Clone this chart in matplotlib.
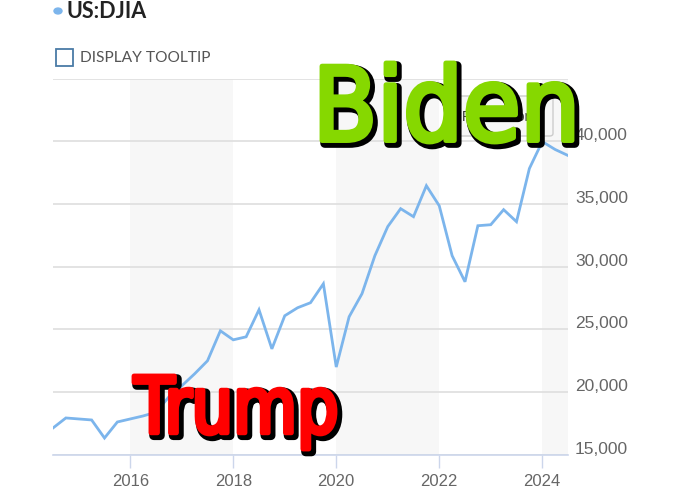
import matplotlib
matplotlib.use("Agg")
import matplotlib.pyplot as plt
import matplotlib.patheffects as pe
import matplotlib.transforms as mtransforms
from matplotlib.textpath import TextPath
from matplotlib.patches import PathPatch, FancyBboxPatch, Rectangle, Circle
from matplotlib.font_manager import FontProperties
from matplotlib.ticker import FixedLocator, FuncFormatter

# ---- data (quarterly DJIA) ----
dates = [2014.50, 2014.75, 2015.00, 2015.25, 2015.50, 2015.75, 2016.00, 2016.25,
         2016.50, 2016.75, 2017.00, 2017.25, 2017.50, 2017.75, 2018.00, 2018.25,
         2018.50, 2018.75, 2019.00, 2019.25, 2019.50, 2019.75, 2020.00, 2020.25,
         2020.50, 2020.75, 2021.00, 2021.25, 2021.50, 2021.75, 2022.00, 2022.25,
         2022.50, 2022.75, 2023.00, 2023.25, 2023.50, 2023.75, 2024.00, 2024.25,
         2024.50]
djia = [17130, 17930, 17850, 17770, 16330, 17610, 17850, 18090,
        18390, 19610, 20490, 21450, 22490, 24880, 24160, 24400,
        26560, 23440, 26080, 26720, 27120, 28630, 21990, 26000,
        27840, 30870, 33190, 34620, 33980, 36450, 34850, 30870,
        28790, 33260, 33340, 34540, 33580, 37820, 39970, 39340,
        38860]
x_ticks = [2016, 2018, 2020, 2022, 2024]
y_ticks = [15000, 20000, 25000, 30000, 35000, 40000]
band_starts = [2016, 2020, 2024]
band_ends = [2018, 2022, 2026]
series_name = "US:DJIA"

W, H = 680, 502
fig = plt.figure(figsize=(W / 100, H / 100), dpi=100)
fig.patch.set_facecolor("white")

ax = fig.add_axes([53 / W, (H - 455.7) / H, (568 - 53) / W, (455.7 - 79.5) / H])
ax.set_xlim(2014.5, 2024.5)
ax.set_ylim(15000, 45000)

for s, e in zip(band_starts, band_ends):
    ax.axvspan(s, e, color="#f7f7f7", zorder=0, lw=0)

for yv in [15000, 20000, 25000, 30000, 35000, 40000, 45000]:
    ax.axhline(yv, color="#dedede", lw=1.2, zorder=1)

ax.plot(dates, djia, color="#7cb5ec", lw=2.0, zorder=3, solid_joinstyle="miter")

for sp in ["top", "left", "right"]:
    ax.spines[sp].set_visible(False)
ax.spines["bottom"].set_color("#ccd6eb")
ax.spines["bottom"].set_linewidth(1.2)
ax.spines["bottom"].set_zorder(2)

ax.xaxis.set_major_locator(FixedLocator(x_ticks))
ax.xaxis.set_major_formatter(FuncFormatter(lambda v, p: f"{int(v)}"))
ax.tick_params(axis="x", length=9.5, width=1.0, color="#ccd6eb", pad=4,
               labelsize=12, labelcolor="#666666")
ax.yaxis.tick_right()
ax.yaxis.set_major_locator(FixedLocator(y_ticks))
ax.yaxis.set_major_formatter(FuncFormatter(lambda v, p: f"{int(v):,}"))
ax.tick_params(axis="y", length=0, pad=5, labelsize=12.5, labelcolor="#666666")
for lab in ax.get_xticklabels() + ax.get_yticklabels():
    lab.set_fontfamily("Liberation Sans")
offset = mtransforms.ScaledTranslation(0, 8 / 100, fig.dpi_scale_trans)
for lab in ax.get_yticklabels():
    lab.set_transform(lab.get_transform() + offset)

# ---- header ----
fig.add_artist(Circle((58 / W, (H - 12) / H), 4.0 / W, transform=fig.transFigure,
                      color="#7cb5ec", zorder=5))
fig.text(67 / W, (H - 11) / H, series_name, fontsize=15.5, fontweight="bold",
         family="Lato", color="#222222", va="center", ha="left")
fig.add_artist(Rectangle((55.5 / W, (H - 66.5) / H), 17 / W, 17 / H,
                         transform=fig.transFigure, fill=False,
                         edgecolor="#4a7ba6", lw=1.3, zorder=5))
fig.text(80 / W, (H - 57.5) / H, "DISPLAY TOOLTIP", fontsize=11.2,
         family="Lato", color="#555555", va="center", ha="left")

# ---- reset zoom button (mostly hidden) ----
fig.add_artist(FancyBboxPatch((445 / W, (H - 137) / H), 108 / W, 40 / H,
                              boxstyle="round,pad=0,rounding_size=0.005",
                              transform=fig.transFigure, facecolor="#f7f7f7",
                              edgecolor="#cccccc", lw=1, zorder=4))
fig.text(499 / W, (H - 117) / H, "Reset zoom", fontsize=10, color="#333333",
         family="Liberation Sans", ha="center", va="center", zorder=4.5)


def fancy(text, box, color):
    fp = FontProperties(family="DejaVu Sans", weight="normal")
    tp = TextPath((0, 0), text, size=100, prop=fp)
    ext = tp.get_extents()
    x0, y0, x1, y1 = box
    sx = (x1 - x0) / ext.width / W
    sy = (y1 - y0) / ext.height / H
    tr = (mtransforms.Affine2D().translate(-ext.x0, -ext.y0)
          .scale(sx, sy).translate(x0 / W, (H - y1) / H))
    patch = PathPatch(tr.transform_path(tp), facecolor=color, edgecolor=color,
                      lw=0, transform=fig.transFigure, zorder=6)
    patch.set_path_effects([
        pe.Stroke(linewidth=6.5, foreground="black", offset=(2.0, -2.0),
                  joinstyle="round", capstyle="round"),
        pe.Stroke(linewidth=3.5, foreground=color, joinstyle="round",
                  capstyle="round"),
        pe.Normal(),
    ])
    fig.add_artist(patch)


fancy("Biden", (322, 64, 572, 143), "#86d800")
fancy("Trump", (134, 377, 335, 450), "#ff0000")

fig.savefig("out.png", dpi=100, facecolor="white")
